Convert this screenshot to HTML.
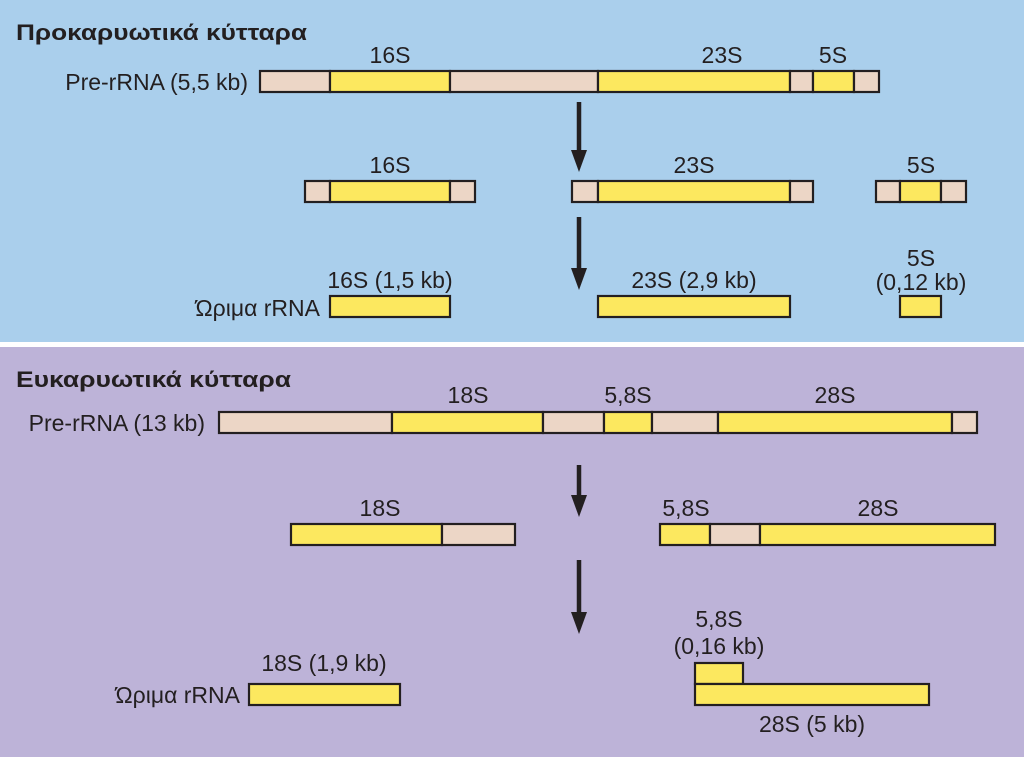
<!DOCTYPE html>
<html><head><meta charset="utf-8"><style>
body{margin:0;width:1024px;height:757px;overflow:hidden;background:#fff}
svg{display:block}
text{font-family:"Liberation Sans","DejaVu Sans",sans-serif;fill:#231f20;font-size:23px}
.t{font-weight:bold;font-size:22px}
</style></head><body>
<svg id="svg" width="1024" height="757" viewBox="0 0 1024 757">
<rect x="0" y="0" width="1024" height="342" fill="#aacfec"/>
<rect x="0" y="347" width="1024" height="410" fill="#bdb3d8"/>
<text class="t" x="16" y="40" textLength="291" lengthAdjust="spacingAndGlyphs">Προκαρυωτικά κύτταρα</text>
<text class="t" x="16" y="387" textLength="275" lengthAdjust="spacingAndGlyphs">Ευκαρυωτικά κύτταρα</text>
<g id="bars"></g>
<g id="labels"></g>
<g id="arrows"></g>
</svg>
<script>
// segments: [x1, x2, y, type] type y=yellow b=beige
const segs=[
[260,330,71,'b'],[330,450,71,'y'],[450,598,71,'b'],[598,790,71,'y'],[790,813,71,'b'],[813,854,71,'y'],[854,879,71,'b'],
[305,330,181,'b'],[330,450,181,'y'],[450,475,181,'b'],
[572,598,181,'b'],[598,790,181,'y'],[790,813,181,'b'],
[876,900,181,'b'],[900,941,181,'y'],[941,966,181,'b'],
[330,450,296,'y'],[598,790,296,'y'],[900,941,296,'y'],
[219,392,412,'b'],[392,543,412,'y'],[543,604,412,'b'],[604,652,412,'y'],[652,718,412,'b'],[718,952,412,'y'],[952,977,412,'b'],
[291,442,524,'y'],[442,515,524,'b'],
[660,710,524,'y'],[710,760,524,'b'],[760,995,524,'y'],
[249,400,684,'y'],[695,743,663,'y'],[695,929,684,'y']
];
const labels=[
[390,63,'16S','m'],[722,63,'23S','m'],[833,63,'5S','m'],[248,90,'Pre-rRNA (5,5 kb)','e'],
[390,173,'16S','m'],[694,173,'23S','m'],[921,173,'5S','m'],
[390,288,'16S (1,5 kb)','m'],[694,288,'23S (2,9 kb)','m'],[921,266,'5S','m'],[921,290,'(0,12 kb)','m'],[320,316,'Ώριμα rRNA','e'],
[468,403,'18S','m'],[628,403,'5,8S','m'],[835,403,'28S','m'],[205,431,'Pre-rRNA (13 kb)','e'],
[380,516,'18S','m'],[686,516,'5,8S','m'],[878,516,'28S','m'],
[324,671,'18S (1,9 kb)','m'],[719,627,'5,8S','m'],[719,654,'(0,16 kb)','m'],[812,732,'28S (5 kb)','m'],[240,703,'Ώριμα rRNA','e']
];
const arrows=[[579,102,172],[579,217,290],[579,465,517],[579,560,634]];
const NS='http://www.w3.org/2000/svg';
const gb=document.getElementById('bars');
segs.forEach(s=>{const r=document.createElementNS(NS,'rect');
r.setAttribute('x',s[0]);r.setAttribute('y',s[2]);r.setAttribute('width',s[1]-s[0]);r.setAttribute('height',21);
r.setAttribute('fill',s[3]==='y'?'#fce85f':'#ecd6c6');r.setAttribute('stroke','#231f20');r.setAttribute('stroke-width','2.2');


gb.appendChild(r);});
const gl=document.getElementById('labels');
labels.forEach(l=>{const t=document.createElementNS(NS,'text');
t.setAttribute('x',l[0]);t.setAttribute('y',l[1]);t.setAttribute('text-anchor',l[3]==='m'?'middle':'end');t.textContent=l[2];


gl.appendChild(t);});
const ga=document.getElementById('arrows');
arrows.forEach(a=>{const g=document.createElementNS(NS,'g');


g.innerHTML=`<line x1="${a[0]}" y1="${a[1]}" x2="${a[0]}" y2="${a[2]-14}" stroke="#231f20" stroke-width="4.5"/><polygon points="${a[0]-8},${a[2]-22} ${a[0]+8},${a[2]-22} ${a[0]},${a[2]}" fill="#231f20"/>`;
ga.appendChild(g);});
</script>
</body></html>
